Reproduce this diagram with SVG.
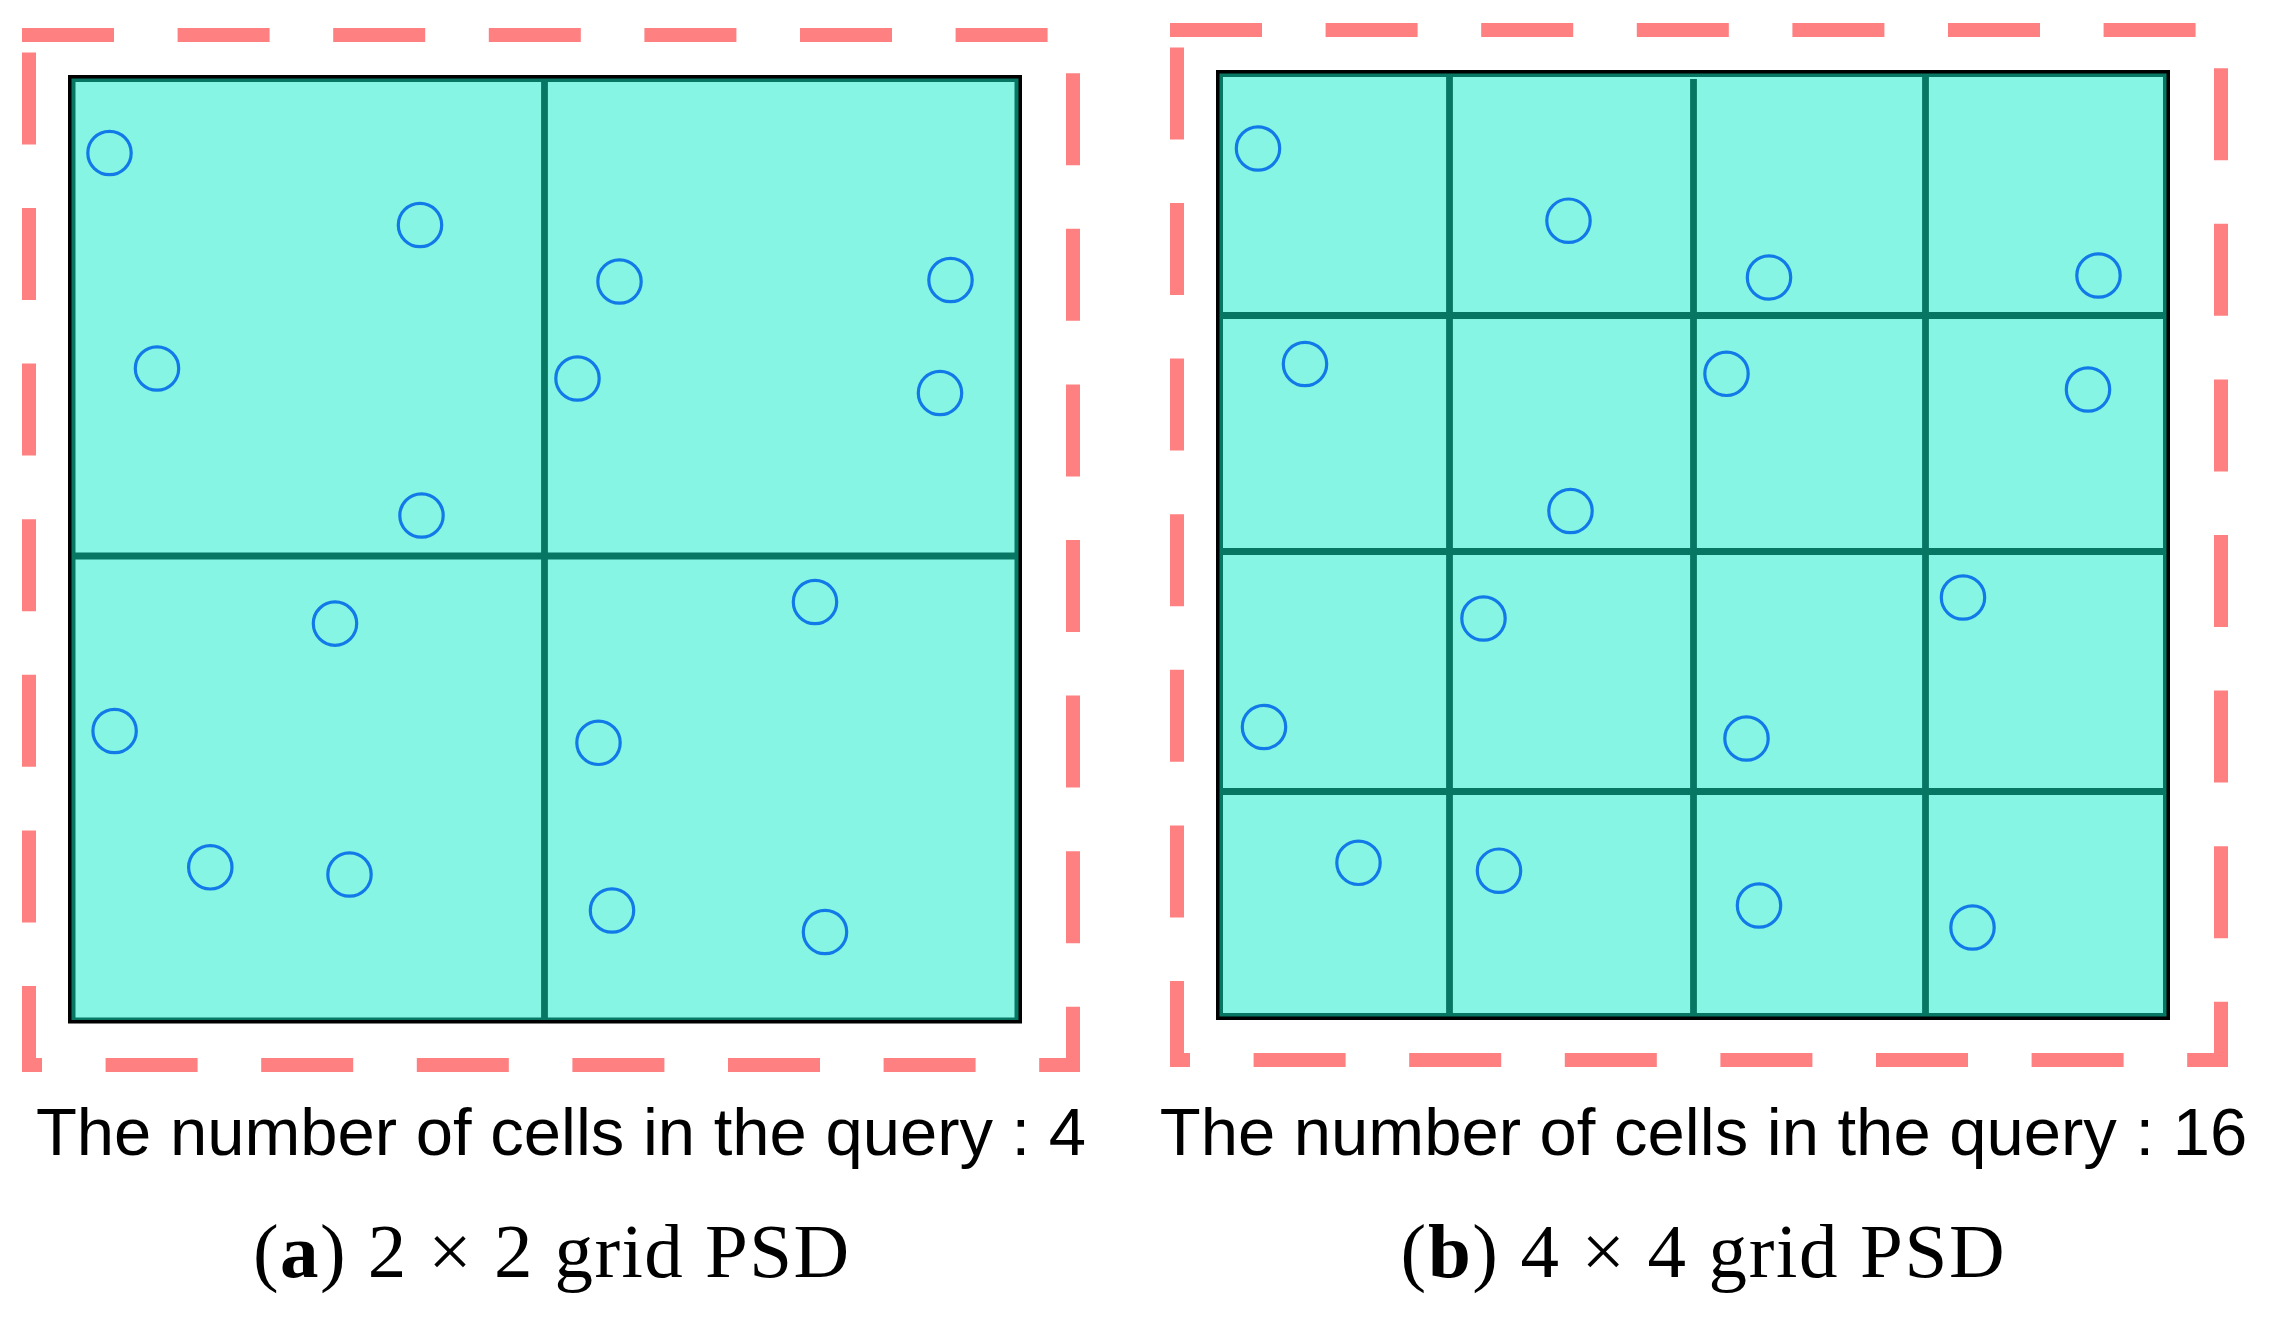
<svg xmlns="http://www.w3.org/2000/svg" width="2274" height="1318" viewBox="0 0 2274 1318">
<style>
.frame{fill:none;stroke:#FF8080;stroke-width:14;stroke-dasharray:92 63.6;stroke-linecap:butt;stroke-linejoin:miter}
.edge{fill:#000000}
.band{fill:#077764}
.cell{fill:#87F5E3}
.gl{stroke:#077764;stroke-width:6.8;fill:none}
.pt{fill:none;stroke:#117AE8;stroke-width:3.2}
.lbl{font-family:"Liberation Sans",Arial,sans-serif;font-size:67px;fill:#000;text-anchor:middle}
.cap{font-family:"Liberation Serif","Times New Roman",serif;font-size:77px;fill:#000;text-anchor:middle}
</style>
<rect width="2274" height="1318" fill="#ffffff"/>

<g id="panel-a">
  <path class="frame" d="M22,35 H1073 V1065 H29 V35"/>
  <g id="grid-a">
    <rect class="edge" x="68" y="75" width="954" height="948.5"/>
    <rect class="band" x="71.5" y="78.5" width="947" height="941.5"/>
    <rect class="cell" x="75.5" y="82" width="939" height="935.5"/>
    <line class="gl" x1="544.5" y1="80" x2="544.5" y2="1018"/>
    <line class="gl" x1="72" y1="556" x2="1018" y2="556"/>
  </g>
  <g id="points-a">
    <circle class="pt" cx="109.5" cy="153" r="21.7"/>
    <circle class="pt" cx="420" cy="225" r="21.7"/>
    <circle class="pt" cx="157" cy="368.5" r="21.7"/>
    <circle class="pt" cx="421.5" cy="515.5" r="21.7"/>
    <circle class="pt" cx="619.5" cy="281.5" r="21.7"/>
    <circle class="pt" cx="950.5" cy="280" r="21.7"/>
    <circle class="pt" cx="577.5" cy="378.5" r="21.7"/>
    <circle class="pt" cx="940" cy="393" r="21.7"/>
    <circle class="pt" cx="335" cy="623.6" r="21.7"/>
    <circle class="pt" cx="114.6" cy="731" r="21.7"/>
    <circle class="pt" cx="210.3" cy="867.3" r="21.7"/>
    <circle class="pt" cx="349.5" cy="874.5" r="21.7"/>
    <circle class="pt" cx="815" cy="602" r="21.7"/>
    <circle class="pt" cx="598.5" cy="742.8" r="21.7"/>
    <circle class="pt" cx="612" cy="910.5" r="21.7"/>
    <circle class="pt" cx="825" cy="932" r="21.7"/>
  </g>
  <text id="label-a" class="lbl" x="561" y="1155">The number of cells in the query : 4</text>
  <text id="caption-a" class="cap" x="551" y="1277" textLength="596" lengthAdjust="spacing">(<tspan font-weight="bold">a</tspan>) 2 × 2 grid PSD</text>
</g>

<g id="panel-b">
  <path class="frame" d="M1170,30 H2221 V1060 H1177 V30"/>
  <g id="grid-b">
    <rect class="edge" x="1216" y="70" width="954" height="950"/>
    <rect class="band" x="1219.5" y="73.5" width="947" height="943"/>
    <rect class="cell" x="1223" y="77" width="940" height="936"/>
    <line class="gl" x1="1449.5" y1="75" x2="1449.5" y2="1016"/>
    <line class="gl" x1="1693.5" y1="79" x2="1693.5" y2="1016"/>
    <line class="gl" x1="1925.5" y1="75" x2="1925.5" y2="1016"/>
    <line class="gl" x1="1220" y1="315.5" x2="2166" y2="315.5"/>
    <line class="gl" x1="1220" y1="551.5" x2="2166" y2="551.5"/>
    <line class="gl" x1="1220" y1="791.5" x2="2166" y2="791.5"/>
  </g>
  <g id="points-b">
    <circle class="pt" cx="1258" cy="148.5" r="21.7"/>
    <circle class="pt" cx="1568.5" cy="220.7" r="21.7"/>
    <circle class="pt" cx="1769" cy="277.5" r="21.7"/>
    <circle class="pt" cx="2098.5" cy="275.5" r="21.7"/>
    <circle class="pt" cx="1305" cy="364" r="21.7"/>
    <circle class="pt" cx="1726.5" cy="373.8" r="21.7"/>
    <circle class="pt" cx="2088" cy="389.5" r="21.7"/>
    <circle class="pt" cx="1570.5" cy="511" r="21.7"/>
    <circle class="pt" cx="1483.5" cy="618.5" r="21.7"/>
    <circle class="pt" cx="1963" cy="597.5" r="21.7"/>
    <circle class="pt" cx="1264" cy="727" r="21.7"/>
    <circle class="pt" cx="1746.5" cy="738.5" r="21.7"/>
    <circle class="pt" cx="1358.5" cy="862.8" r="21.7"/>
    <circle class="pt" cx="1499" cy="870.7" r="21.7"/>
    <circle class="pt" cx="1759" cy="905.5" r="21.7"/>
    <circle class="pt" cx="1972.5" cy="927.5" r="21.7"/>
  </g>
  <text id="label-b" class="lbl" x="1703.5" y="1155">The number of cells in the query : 16</text>
  <text id="caption-b" class="cap" x="1702.6" y="1277" textLength="604" lengthAdjust="spacing">(<tspan font-weight="bold">b</tspan>) 4 × 4 grid PSD</text>
</g>
</svg>
